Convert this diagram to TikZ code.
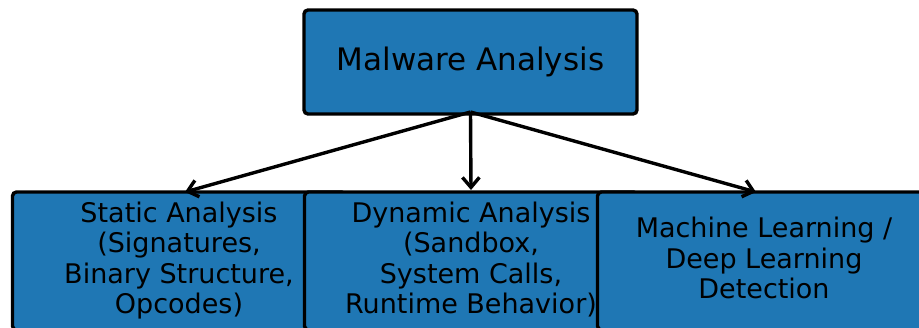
\documentclass[tikz,border=0pt]{standalone}
\usepackage{fontspec}
\setmainfont{DejaVu Sans}
\usetikzlibrary{arrows.meta}
\definecolor{boxblue}{RGB}{31,119,180}
\tikzset{
  box/.style={draw=black, fill=boxblue, line width=3.4pt, rounded corners=4pt,
    outer sep=0pt, inner sep=0pt, align=center, text=black},
  topbox/.style={box, minimum width=333pt, minimum height=104pt,
    font=\fontsize{31}{36}\selectfont},
  subbox/.style={box, minimum width=333pt, minimum height=138pt,
    font=\fontsize{27}{30.3}\selectfont, text depth=6.4pt},
  arr/.style={draw=black, line width=3.4pt,
    -{Straight Barb[length=10pt,width=17pt]}}
}
\begin{document}
\begin{tikzpicture}[x=1pt,y=-1pt]
  \useasboundingbox (0,0) rectangle (919,327);
  \clip (0,0) rectangle (919,327);

  % root of the tree
  \node[topbox] (root) at (470.5,62) {Malware Analysis};

  % the three approaches, overlapping side by side
  \node[subbox] (b1) at (179,261) {Static Analysis\\(Signatures,\\Binary Structure,\\Opcodes)};
  \node[subbox] (b2) at (471,261) {Dynamic Analysis\\(Sandbox,\\System Calls,\\Runtime Behavior)};
  \node[subbox] (b3) at (764,261) {Machine Learning /\\Deep Learning\\Detection};

  % connectors
  \draw[arr] ([yshift=2pt]root.south) -- ([xshift=6pt]b1.north);
  \draw[arr] ([yshift=2pt]root.south) -- ([yshift=2pt]b2.north);
  \draw[arr] ([yshift=2pt]root.south) -- ([xshift=-8pt]b3.north);
\end{tikzpicture}
\end{document}
